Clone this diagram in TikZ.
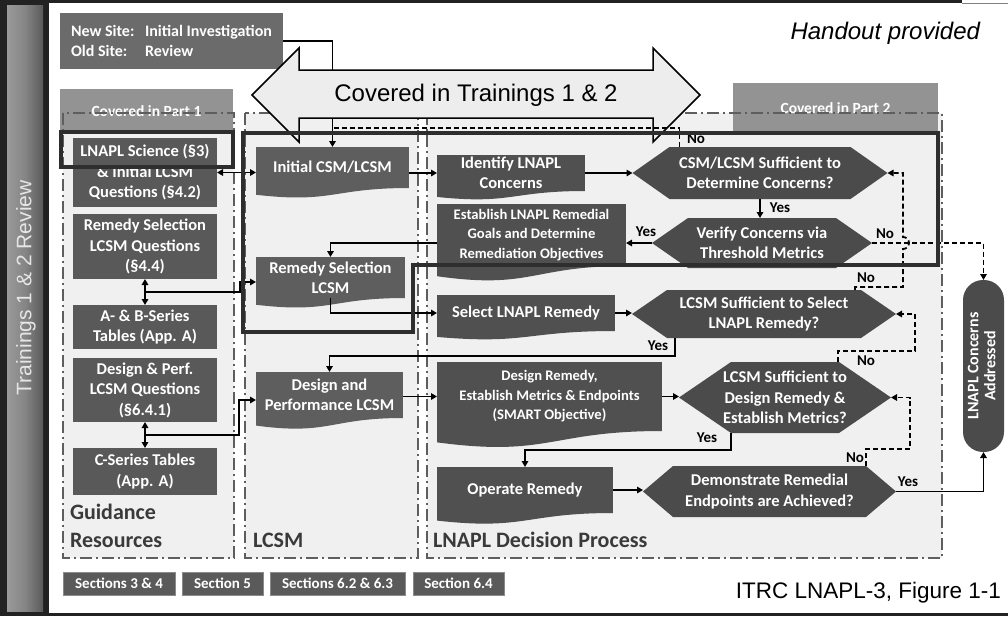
\documentclass[tikz,border=0pt]{standalone}
\usepackage{fontspec}
\setmainfont{Carlito}
\newfontfamily\arialf{Liberation Sans}
\usetikzlibrary{arrows.meta,calc}
\definecolor{cGuide}{HTML}{595959}
\definecolor{cLcsm}{HTML}{5E5E5E}
\definecolor{cDec}{HTML}{505050}
\definecolor{cHex}{HTML}{4B4B4B}
\definecolor{cNew}{HTML}{6B6B6B}
\definecolor{cHdr}{HTML}{939393}
\definecolor{cPanel}{HTML}{F0F0F0}
\definecolor{cBorder}{HTML}{5E5E5E}
\definecolor{cThick}{HTML}{2E2E2E}
\definecolor{cLabel}{HTML}{3A3A3A}
\definecolor{cSec}{HTML}{5A5A5A}
\definecolor{cSecB}{HTML}{8A8A8A}
\definecolor{cArrow}{HTML}{EDEDED}
\definecolor{cFrame}{HTML}{222222}
\definecolor{cBarL}{HTML}{9A9A9A}
\definecolor{cBarM}{HTML}{858585}
\definecolor{cBarR}{HTML}{5A5A5A}
\definecolor{cBarT}{HTML}{E6E6E6}
\newcommand\docwave[3]{\fill[#1] (#2.south east) .. controls (#2.south) and ($(#2.south)+(0,{0.381*#3})$) .. ($(#2.south west)+(0,{0.1646*#3})$) -- (#2.south west) -- cycle;}
\begin{document}
\begin{tikzpicture}[x=1pt,y=-1pt,
  every node/.style={inner sep=0pt,outer sep=0pt},
  mainfont/.style={font=\bfseries\fontsize{16.5}{20.5}\selectfont},
  smallfont/.style={font=\bfseries\fontsize{14.6}{19.5}\selectfont},
  nsbox/.style={fill=cNew,text=white,align=left,font=\bfseries\fontsize{16}{20}\selectfont},
  gbox/.style={fill=cGuide,text=white,align=center,mainfont},
  lbox/.style={fill=cLcsm,text=white,align=center,mainfont},
  dbox/.style={fill=cDec,text=white,align=center,mainfont},
  hexin/.store in=\hexin, hexin=35,
  hexa/.style={fill=cPanel,text=white,align=center,mainfont,
    path picture={\fill[cHex] ($(path picture bounding box.north west)+(\hexin,0)$) -- ($(path picture bounding box.north east)+(-\hexin,0)$) -- (path picture bounding box.east) -- ($(path picture bounding box.south east)+(-\hexin,0)$) -- ($(path picture bounding box.south west)+(\hexin,0)$) -- (path picture bounding box.west) -- cycle;}},
  hdr/.style={fill=cHdr,text=white,font=\bfseries\fontsize{15.5}{18}\selectfont},
  secbox/.style={fill=cSec,draw=cSecB,line width=1pt,text=white,minimum height=23,font=\bfseries\fontsize{15}{18}\selectfont},
  plabel/.style={text=cLabel,font=\bfseries\fontsize{22}{26}\selectfont,anchor=base west},
  yn/.style={text=black,font=\bfseries\fontsize{15}{18}\selectfont},
  panel/.style={draw=cBorder,line width=1.5pt,dash pattern=on 12pt off 4pt on 2pt off 4pt},
  arr/.style={line width=1.8pt,-{Triangle[length=6pt,width=6.5pt]}},
  darr/.style={line width=1.8pt,{Triangle[length=6pt,width=6.5pt]}-{Triangle[length=6pt,width=6.5pt]}},
  dconn/.style={arr,dash pattern=on 5pt off 3pt},
  thickline/.style={draw=cThick,line width=3.2pt}
]
\useasboundingbox (0,0) rectangle (1008,616);
\fill[white] (0,0) rectangle (1008,616);
% frame and side bar
\fill[cFrame] (0,0) rectangle (49,616);
\shade[left color=cBarL,right color=cBarR,middle color=cBarM] (7,5) rectangle (43,611);
\node[rotate=90,text=cBarT,font=\arialf\fontsize{21}{25}\selectfont] (side) at (26,288) {Trainings 1 \& 2 Review};
\draw[cFrame,line width=3pt] (48,1.5) -- (962,1.5);
\draw[gray,line width=1pt] (962,3.5) -- (1008,3.5);
\draw[cFrame,line width=2.5pt] (0,614.7) -- (1008,614.7);

% panels
\fill[cPanel] (63,113) rectangle (234,558);
\fill[cPanel] (245,113) rectangle (418,558);
\fill[cPanel] (427,113) rectangle (942,558);
\node[hdr,minimum width=173,minimum height=44] (hp1) at (146.5,111) {Covered in Part 1};
\node[hdr,minimum width=205,minimum height=50] (hp2) at (835.5,108) {Covered in Part 2};
\draw[panel] (63,113) rectangle (234,558);
\draw[panel] (245,113) rectangle (418,558);
\draw[panel] (427,113) rectangle (942,558);
\node[plabel] (lab1) at (70,519) {Guidance};
\node[plabel] (lab2) at (70,547) {Resources};
\node[plabel] (lab3) at (253,547) {LCSM};
\node[plabel] (lab4) at (433,547) {LNAPL Decision Process};

% top texts
\node[nsbox,minimum width=223,minimum height=56] (ns) at (171.5,41) {\makebox[74pt][l]{New Site:}Initial Investigation\\\makebox[74pt][l]{Old Site:}Review};
\node[anchor=east,font=\arialf\itshape\fontsize{24}{28}\selectfont] (ho) at (980,33) {Handout provided};
\node[anchor=east,font=\arialf\fontsize{22.5}{26}\selectfont] (itrc) at (1001,593) {ITRC LNAPL-3, Figure 1-1};

% guidance boxes
\node[gbox,minimum width=144,minimum height=69] (g1) at (145,172.5) {LNAPL Science (§3)\\\& Initial LCSM\\Questions (§4.2)};
\node[gbox,minimum width=144,minimum height=65] (g2) at (145,246.5) {Remedy Selection\\LCSM Questions\\(§4.4)};
\node[gbox,minimum width=144,minimum height=44] (g3) at (145,327) {A- \& B-Series\\Tables (App. A)};
\node[gbox,minimum width=144,minimum height=64] (g4) at (145,390) {Design \& Perf.\\LCSM Questions\\(§6.4.1)};
\node[gbox,minimum width=144,minimum height=47] (g5) at (145,471.5) {C-Series Tables\\(App. A)};

% LCSM boxes
\node[lbox,minimum width=153,minimum height=41] (l1) at (332.5,167.5) {Initial CSM/LCSM};
\node[lbox,minimum width=149,minimum height=41] (l2) at (330.5,277.5) {Remedy Selection\\LCSM};
\node[lbox,minimum width=147,minimum height=46] (l3) at (329.5,395) {Design and\\Performance LCSM};
\docwave{cLcsm}{l1}{41}
\docwave{cLcsm}{l2}{41}
\docwave{cLcsm}{l3}{46}

% decision boxes
\node[dbox,minimum width=148,minimum height=36] (d1) at (511,173) {Identify LNAPL\\Concerns};
\node[dbox,smallfont,minimum width=189,minimum height=62] (d2) at (531.5,235) {Establish LNAPL Remedial\\Goals and Determine\\Remediation Objectives};
\node[dbox,minimum width=178,minimum height=36] (d3) at (526,313) {Select LNAPL Remedy};
\node[dbox,smallfont,minimum width=225,minimum height=69] (d4) at (549.5,396.5) {Design Remedy,\\Establish Metrics \& Endpoints\\(SMART Objective)};
\node[dbox,minimum width=176,minimum height=46] (d5) at (525,490) {Operate Remedy};
\docwave{cDec}{d1}{36}
\docwave{cDec}{d2}{62}
\docwave{cDec}{d3}{36}
\docwave{cDec}{d4}{69}
\docwave{cDec}{d5}{46}

% hexagons
\node[hexa,hexin=37,minimum width=255,minimum height=52] (h1) at (760,173) {CSM/LCSM Sufficient to\\Determine Concerns?};
\node[hexa,hexin=36,minimum width=220,minimum height=50] (h2) at (762,243) {Verify Concerns via\\Threshold Metrics};
\node[hexa,hexin=35,minimum width=264,minimum height=48] (h3) at (764,314) {LCSM Sufficient to Select\\LNAPL Remedy?};
\node[hexa,hexin=52,minimum width=212,minimum height=71] (h4) at (785,397.5) {LCSM Sufficient to\\Design Remedy \&\\Establish Metrics?};
\node[hexa,hexin=30,minimum width=253,minimum height=51] (h5) at (769.5,491.5) {Demonstrate Remedial\\Endpoints are Achieved?};

% terminal
\node[fill=cHex,rounded corners=20pt,minimum width=41,minimum height=172,text=white,font=\bfseries\fontsize{16}{17}\selectfont] (t) at (983.5,366) {\rotatebox{90}{\begin{tabular}{@{}c@{}}LNAPL Concerns\\Addressed\end{tabular}}};

% section boxes
\node[secbox,minimum width=112] (s1) at (119,583.5) {Sections 3 \& 4};
\node[secbox,minimum width=81] (s2) at (222.5,583.5) {Section 5};
\node[secbox,minimum width=135] (s3) at (337.5,583.5) {Sections 6.2 \& 6.3};
\node[secbox,minimum width=91] (s4) at (458.5,583.5) {Section 6.4};

% connector hidden under the big arrow
\draw[arr] (ns.east) -| (l1.north);
% big arrow
\draw[fill=cArrow,line width=1.5pt,line join=miter] (252,95) -- (299,48) -- (299,70) -- (653,70) -- (653,48) -- (700,95) -- (653,142) -- (653,118) -- (299,118) -- (299,142) -- cycle;
\node[font=\arialf\fontsize{24}{28}\selectfont] (bat) at (476,95) {Covered in Trainings 1 \& 2};

% connectors
\coordinate (topline) at (0,128);
\draw[line width=1.8pt,dash pattern=on 5pt off 3pt] ($(h1.north west)+(47,0)$) |- (l1.north |- topline);
\node[yn] (n1) at (696,139) {No};
\draw[darr] (g1.east) -- (g1.east -| l1.west);
\draw[arr] (l1.east |- d1.west) -- (d1.west);
\draw[arr] (d1.east) -- (h1.west);
\draw[arr] (h1.south) -- (h1.south |- h2.north);
\node[yn] (y1) at (780,208) {Yes};
\draw[arr] (h2.west) -- (h2.west -| d2.east);
\node[yn] (y2) at (646,232) {Yes};
\draw[arr] ($(d2.west)+(0,8)$) -| (l2.north);
\draw[arr] (l2.south) |- (d3.west);
\draw[darr] (g2.south) -- (g3.north);
\draw[arr] ($(g2.south)!0.5!(g3.north)$) -- ++(95,0) |- ($(l2.west)+(0,4.5)$);
\draw[darr] (g4.south) -- (g5.north);
\draw[arr] ($(g4.south)!0.5!(g5.north)$) -- ++(94,0) |- ($(l3.west)+(0,5)$);
\draw[arr] (d3.east) -- (d3.east -| h3.west);
\draw[arr] ($(h3.south west)+(43,0)$) -- ++(0,18) -| (l3.north);
\node[yn] (y3) at (658,346) {Yes};
\draw[arr] (l3.east |- d4.west) -- (d4.west);
\draw[arr] (d4.east) -- (d4.east -| h4.west);
\draw[arr] ($(h4.south west)+(52,0)$) -- ++(0,17) -| (d5.north);
\node[yn] (y4) at (707,438) {Yes};
\draw[arr] (d5.east) -- (d5.east -| h5.west);
\draw[arr] (h5.east) -| (t.south);
\node[yn] (y5) at (908,482) {Yes};
% dashed returns
\draw[dconn] (h2.east) -| (t.north);
\node[yn] (n2) at (885,234) {No};
\coordinate (v1) at (903,287);
\draw[dconn] ($(h3.north east)+(-41,0)$) |- (v1) -- (903,249) arc[start angle=90,end angle=-90,radius=6] -- (v1 |- h1.east) -- (h1.east);
\node[yn] (n3) at (866,278) {No};
\draw[dconn] ($(h4.north west)+(159,0)$) -- ++(0,-11) -| ($(h3.east)+(19,0)$) -- (h3.east);
\node[yn] (n4) at (866,361) {No};
\draw[dconn] ($(h5.north east)+(-30,0)$) -- ++(0,-17) -| ($(h4.east)+(19,0)$) -- (h4.east);
\node[yn] (n5) at (855,458) {No};

% thick outlines
\draw[thickline,line join=miter] (243,133) -- (938,133) -- (938,265) -- (413,265) -- (413,332) -- (243,332) -- cycle;
\draw[thickline] (61,132) rectangle (233,167);
\end{tikzpicture}
\end{document}
